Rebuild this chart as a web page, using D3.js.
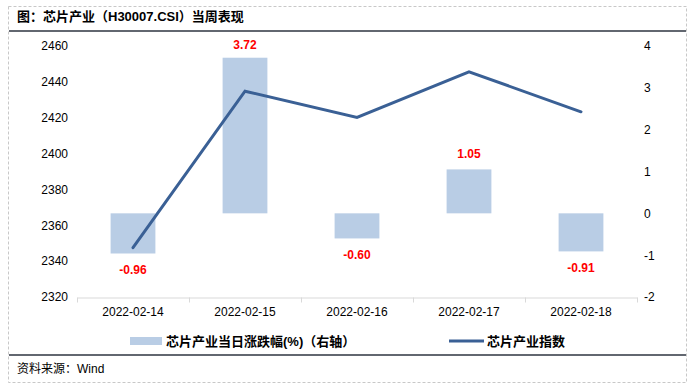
<!DOCTYPE html>
<html><head><meta charset="utf-8">
<script src="https://cdn.jsdelivr.net/npm/d3@7/dist/d3.min.js"></script>
<style>
html,body{margin:0;padding:0;background:#fff;}
svg{display:block;}
text{font-family:"Liberation Sans",Arial,"Noto Sans CJK SC",sans-serif;}
</style></head>
<body>
<script>
const categories = ["2022-02-14","2022-02-15","2022-02-16","2022-02-17","2022-02-18"];
const pctChange = [-0.96, 3.72, -0.60, 1.05, -0.91];
const indexValues = [2347.5, 2434.8, 2420.2, 2445.6, 2423.3];
const leftTicks = [2320, 2340, 2360, 2380, 2400, 2420, 2440, 2460];
const rightTicks = [-2, -1, 0, 1, 2, 3, 4];
const titleText = "图：芯片产业（H30007.CSI）当周表现";
const sourceText = "资料来源：Wind";
const barLegend = "芯片产业当日涨跌幅(%)（右轴）";
const lineLegend = "芯片产业指数";

const W = 696, H = 390;
const svg = d3.select("body").append("svg").attr("width", W).attr("height", H);

// frame
svg.append("rect").attr("x", 8.5).attr("y", 6.5).attr("width", 678).attr("height", 376)
  .attr("fill", "none").attr("stroke", "#c8c8c8").attr("stroke-dasharray", "3,2");
svg.append("text").attr("x", 17).attr("y", 21).attr("font-size", 13).attr("font-weight", "bold")
  .attr("fill", "#000").text(titleText);
svg.append("line").attr("x1", 9).attr("x2", 686).attr("y1", 31).attr("y2", 31)
  .attr("stroke", "#2e3440").attr("stroke-width", 1.5);
svg.append("line").attr("x1", 9).attr("x2", 686).attr("y1", 355).attr("y2", 355)
  .attr("stroke", "#2e3440").attr("stroke-width", 1.5);
svg.append("text").attr("x", 17).attr("y", 373).attr("font-size", 12).attr("fill", "#000").text(sourceText);

const x0 = 77, x1 = 637, yTop = 46, yBot = 297;
const x = d3.scaleBand().domain(categories).range([x0, x1]).padding(0);
const xBar = d3.scaleBand().domain(categories).range([x0, x1]).paddingInner(0.6).paddingOuter(0.3);
const yL = d3.scaleLinear().domain([2320, 2460]).range([yBot, yTop]);
const yR = d3.scaleLinear().domain([-2, 4]).range([yBot, yTop]);

// bars
svg.append("g").selectAll("rect").data(pctChange).join("rect")
  .attr("x", (d, i) => xBar(categories[i]))
  .attr("width", xBar.bandwidth())
  .attr("y", d => yR(Math.max(0, d)))
  .attr("height", d => Math.abs(yR(d) - yR(0)))
  .attr("fill", "#B9CDE5");

// bar labels
svg.append("g").selectAll("text").data(pctChange).join("text")
  .attr("x", (d, i) => xBar(categories[i]) + xBar.bandwidth() / 2)
  .attr("y", d => d >= 0 ? Math.max(yR(d) - 11, 49) : yR(d) + 21)
  .attr("text-anchor", "middle").attr("font-size", 12).attr("font-weight", "bold")
  .attr("fill", "#FF0000")
  .text(d => d.toFixed(2));

// line
const line = d3.line().x((d, i) => x(categories[i]) + x.bandwidth() / 2).y(d => yL(d));
svg.append("path").datum(indexValues).attr("d", line)
  .attr("fill", "none").attr("stroke", "#3A6095").attr("stroke-width", 3)
  .attr("stroke-linejoin", "miter").attr("stroke-linecap", "round");

// axes
const fmt = d => String(d);
const axL = svg.append("g").attr("transform", `translate(71,0)`)
  .call(d3.axisLeft(yL).tickValues(leftTicks).tickSize(0).tickPadding(3).tickFormat(fmt));
axL.select(".domain").remove();
const axR = svg.append("g").attr("transform", `translate(641,0)`)
  .call(d3.axisRight(yR).tickValues(rightTicks).tickSize(0).tickPadding(3).tickFormat(fmt));
axR.select(".domain").remove();
[axL, axR].forEach(a => a.selectAll("text").attr("font-size", 12).attr("fill", "#000")
  .attr("font-family", '"Liberation Sans",Arial,sans-serif'));

const axB = svg.append("g").attr("transform", `translate(0,${yBot + 0.5})`)
  .call(d3.axisBottom(x).tickSize(0).tickPadding(10));
axB.select(".domain").attr("stroke", "#d9d9d9");
axB.selectAll("text").attr("font-size", 12).attr("fill", "#000")
  .attr("font-family", '"Liberation Sans",Arial,sans-serif');
const bounds = categories.map(c => x(c)).concat([x1]);
svg.append("g").selectAll("line").data(bounds).join("line")
  .attr("x1", d => Math.round(d) + 0.5).attr("x2", d => Math.round(d) + 0.5)
  .attr("y1", yBot + 0.5).attr("y2", yBot + 5.5).attr("stroke", "#d9d9d9");

// legend
const lg = svg.append("g");
lg.append("rect").attr("x", 130).attr("y", 337).attr("width", 32).attr("height", 8).attr("fill", "#B9CDE5");
lg.append("text").attr("x", 166).attr("y", 346).attr("font-size", 13).attr("font-weight", "bold")
  .attr("fill", "#000").text(barLegend);
lg.append("line").attr("x1", 449).attr("x2", 484).attr("y1", 341).attr("y2", 341)
  .attr("stroke", "#3A6095").attr("stroke-width", 3);
lg.append("text").attr("x", 487).attr("y", 346).attr("font-size", 13).attr("font-weight", "bold")
  .attr("fill", "#000").text(lineLegend);
</script>
</body></html>
